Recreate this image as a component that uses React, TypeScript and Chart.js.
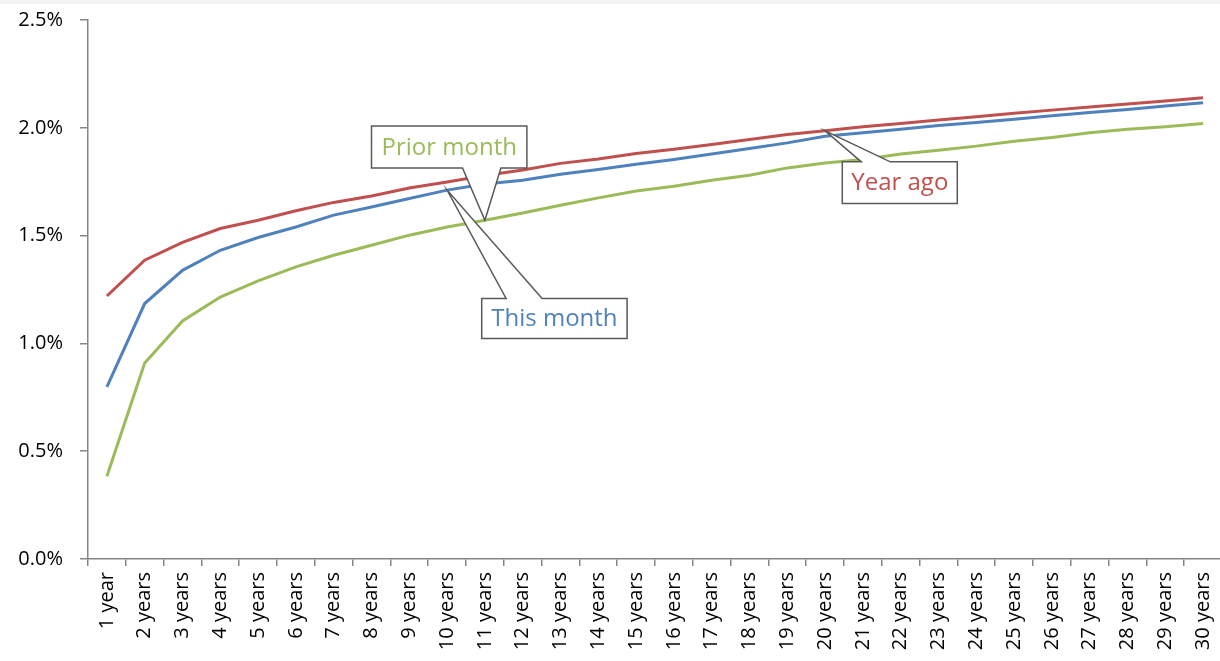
import React, { useEffect, useRef } from "react";
import { Chart, registerables } from "chart.js";

Chart.register(...registerables);

const categories = [
  "1 year", "2 years", "3 years", "4 years", "5 years", "6 years", "7 years", "8 years", "9 years", "10 years",
  "11 years", "12 years", "13 years", "14 years", "15 years", "16 years", "17 years", "18 years", "19 years", "20 years",
  "21 years", "22 years", "23 years", "24 years", "25 years", "26 years", "27 years", "28 years", "29 years", "30 years",
];

const thisMonth = [
  0.798, 1.185, 1.339, 1.432, 1.491, 1.540, 1.595, 1.633, 1.672, 1.711,
  1.739, 1.757, 1.785, 1.807, 1.831, 1.853, 1.878, 1.904, 1.930, 1.961,
  1.977, 1.993, 2.011, 2.025, 2.040, 2.056, 2.071, 2.085, 2.101, 2.116,
];

const priorMonth = [
  0.384, 0.909, 1.104, 1.215, 1.290, 1.355, 1.409, 1.455, 1.502, 1.540,
  1.571, 1.605, 1.641, 1.675, 1.707, 1.729, 1.757, 1.780, 1.814, 1.837,
  1.853, 1.878, 1.896, 1.915, 1.938, 1.955, 1.977, 1.993, 2.005, 2.020,
];

const yearAgo = [
  1.220, 1.386, 1.469, 1.533, 1.571, 1.615, 1.654, 1.684, 1.721, 1.749,
  1.779, 1.804, 1.835, 1.855, 1.881, 1.900, 1.923, 1.946, 1.969, 1.986,
  2.005, 2.020, 2.036, 2.051, 2.067, 2.082, 2.097, 2.110, 2.124, 2.139,
];

const yMin = 0;
const yMax = 2.5;
const yStep = 0.5;

const BLUE = "#4f81bd";
const GREEN = "#9bbb59";
const RED = "#c0504d";
const AXIS = "#868686";
const FONT = "'Open Sans', 'Noto Sans', sans-serif";

// Callouts: anchored to a data point; box geometry is relative to that point.
type Callout = {
  text: string;
  color: string;
  dataset: number;
  index: number;
  dx: number;
  dy: number;
  w: number;
  h: number;
  side: "top" | "bottom";
  b1: number;
  b2: number;
};

const callouts: Callout[] = [
  { text: "Prior month", color: GREEN, dataset: 1, index: 10, dx: -113.4, dy: -94.3, w: 155.4, h: 42, side: "bottom", b1: -22.4, b2: 16 },
  { text: "This month", color: BLUE, dataset: 0, index: 9, dx: 34.6, dy: 108.3, w: 145.4, h: 40, side: "top", b1: 59, b2: 95 },
  { text: "Year ago", color: RED, dataset: 2, index: 19, dx: 17.2, dy: 31, w: 115, h: 41.6, side: "top", b1: 36.2, b2: 65.2 },
];

const calloutPlugin = {
  id: "callouts",
  afterDatasetsDraw(chart: any) {
    const ctx = chart.ctx as CanvasRenderingContext2D;
    const xs = chart.scales.x;
    const ys = chart.scales.y;
    callouts.forEach((c) => {
      const v = chart.data.datasets[c.dataset].data[c.index] as number;
      const tx = xs.getPixelForValue(c.index);
      const ty = ys.getPixelForValue(v);
      const L = tx + c.dx;
      const T = ty + c.dy;
      const R = L + c.w;
      const B = T + c.h;
      ctx.save();
      ctx.beginPath();
      if (c.side === "bottom") {
        ctx.moveTo(L, T);
        ctx.lineTo(R, T);
        ctx.lineTo(R, B);
        ctx.lineTo(tx + c.b2, B);
        ctx.lineTo(tx, ty);
        ctx.lineTo(tx + c.b1, B);
        ctx.lineTo(L, B);
      } else {
        ctx.moveTo(L, T);
        ctx.lineTo(tx + c.b1, T);
        ctx.lineTo(tx, ty);
        ctx.lineTo(tx + c.b2, T);
        ctx.lineTo(R, T);
        ctx.lineTo(R, B);
        ctx.lineTo(L, B);
      }
      ctx.closePath();
      ctx.fillStyle = "#ffffff";
      ctx.fill();
      ctx.lineWidth = 1.5;
      ctx.strokeStyle = "#595959";
      ctx.lineJoin = "miter";
      ctx.stroke();
      ctx.fillStyle = c.color;
      ctx.font = `24px ${FONT}`;
      ctx.textAlign = "center";
      ctx.textBaseline = "middle";
      ctx.fillText(c.text, (L + R) / 2, (T + B) / 2 + 1);
      ctx.restore();
    });
  },
};

export default function App() {
  const canvasRef = useRef<HTMLCanvasElement | null>(null);

  useEffect(() => {
    if (!canvasRef.current) return;
    const chart = new Chart(canvasRef.current, {
      type: "line",
      data: {
        labels: categories,
        datasets: [
          { label: "This month", data: thisMonth, borderColor: BLUE, backgroundColor: BLUE, borderWidth: 3, pointRadius: 0, tension: 0 },
          { label: "Prior month", data: priorMonth, borderColor: GREEN, backgroundColor: GREEN, borderWidth: 3, pointRadius: 0, tension: 0 },
          { label: "Year ago", data: yearAgo, borderColor: RED, backgroundColor: RED, borderWidth: 3, pointRadius: 0, tension: 0 },
        ],
      },
      options: {
        responsive: true,
        maintainAspectRatio: false,
        animation: false,
        layout: { padding: { top: 20, left: 0, right: 0, bottom: 0 } },
        plugins: {
          legend: { display: false },
          tooltip: { enabled: false },
        },
        scales: {
          x: {
            type: "category",
            offset: true,
            grid: {
              offset: true,
              drawOnChartArea: false,
              drawTicks: true,
              tickLength: 7,
              color: AXIS,
              lineWidth: 1.5,
            },
            border: { color: AXIS, width: 1.5 },
            ticks: {
              autoSkip: false,
              maxRotation: 90,
              minRotation: 90,
              padding: 6,
              color: "#000",
              font: { family: FONT, size: 20 },
            },
            afterFit(scale: any) {
              scale.height = 102;
              scale.paddingLeft = 0;
              scale.paddingRight = 0;
            },
          },
          y: {
            min: yMin,
            max: yMax,
            grid: {
              drawOnChartArea: false,
              drawTicks: true,
              tickLength: 8,
              color: AXIS,
              lineWidth: 1.5,
            },
            border: { color: AXIS, width: 1.5 },
            ticks: {
              stepSize: yStep,
              padding: 17,
              color: "#000",
              font: { family: FONT, size: 20 },
              callback: (v: any) => Number(v).toFixed(1) + "%",
            },
            afterFit(scale: any) {
              scale.width = 88;
              scale.paddingTop = 0;
              scale.paddingBottom = 0;
            },
          },
        },
      },
      plugins: [calloutPlugin],
    });
    return () => chart.destroy();
  }, []);

  return (
    <div style={{ position: "fixed", left: 0, top: 0, width: 1220, height: 661, overflow: "hidden", background: "#fff" }}>
      <div style={{ position: "absolute", left: 0, top: 0, width: 1222, height: 661 }}>
        <canvas ref={canvasRef} />
      </div>
      <div style={{ position: "absolute", left: 0, top: 0, width: 1220, height: 4, background: "#f2f2f2" }} />
    </div>
  );
}
